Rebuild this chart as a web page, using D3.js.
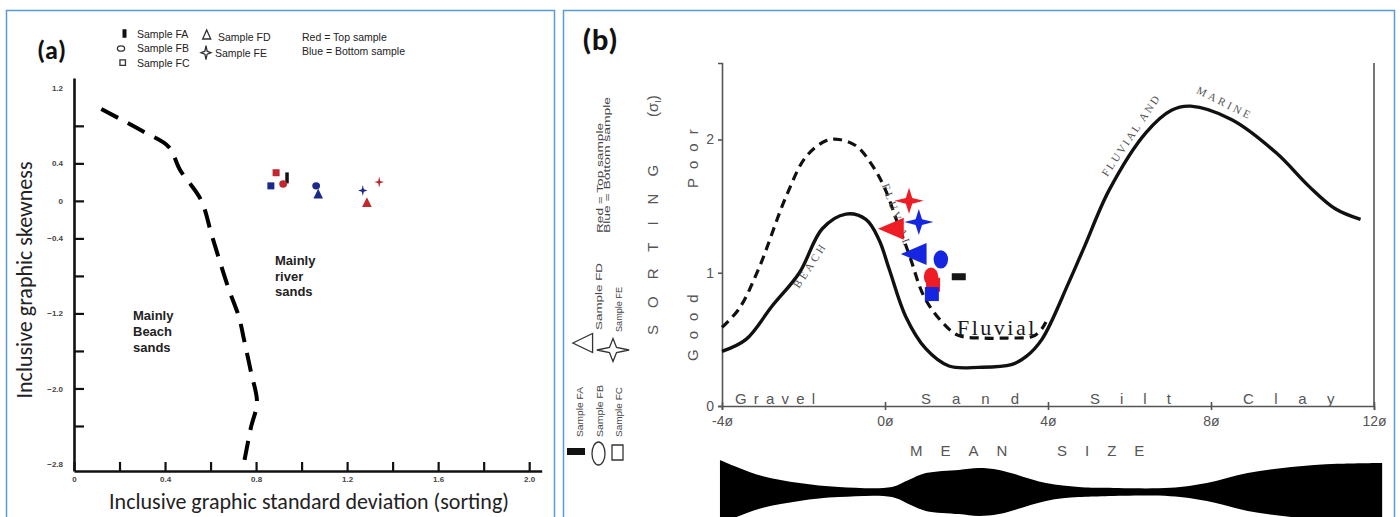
<!DOCTYPE html>
<html>
<head>
<meta charset="utf-8">
<script src="https://cdn.jsdelivr.net/npm/d3@7"></script>
<style>
  body { margin: 0; background: #fff; }
  svg { display: block; }
</style>
</head>
<body>
<svg id="chart" width="1400" height="517"></svg>
<script>
// ---------- panel (a): skewness vs sorting ----------
const sortTicksA = [0, 0.2, 0.4, 0.6, 0.8, 1.0, 1.2, 1.4, 1.6, 1.8, 2.0];
const sortLabelsA = [0, 0.4, 0.8, 1.2, 1.6, 2.0];
const skewTicksA = [1.2, 0.8, 0.4, 0, -0.4, -0.8, -1.2, -1.6, -2.0, -2.4, -2.8];
const skewLabelsA = [1.2, 0.4, 0, -0.4, -1.2, -2.0, -2.8];
const skewMarksA = [0.8, 0.4, 0, -0.4, -0.8, -1.2, -1.6, -2.0, -2.4];

// beach / river divide (dashed)
const divideSorting = [0.12, 0.306, 0.416, 0.466, 0.558, 0.607, 0.677, 0.725, 0.747, 0.778, 0.804, 0.778, 0.747];
const divideSkewness = [0.98, 0.736, 0.576, 0.33, 0.01, -0.38, -0.92, -1.24, -1.48, -1.83, -2.15, -2.41, -2.79];

// samples (FA has one point, the others a top and a bottom sample)
const sampleIds = ['FA', 'FB', 'FB', 'FC', 'FC', 'FD', 'FD', 'FE', 'FE'];
const sampleLevels = ['all', 'top', 'bottom', 'top', 'bottom', 'top', 'bottom', 'top', 'bottom'];
const sortingA = [0.936, 0.919, 1.064, 0.888, 0.865, 1.287, 1.073, 1.341, 1.269];
const skewnessA = [0.245, 0.18, 0.16, 0.30, 0.16, -0.03, 0.06, 0.20, 0.11];

// ---------- panel (b): sorting vs mean size ----------
const meanSizeB = [1.81, 1.13, 1.37, 1.18, 1.15, 0.25, 0.81, 0.59, 0.83];
const sortingB = [0.97, 0.97, 1.10, 0.91, 0.84, 1.33, 1.14, 1.54, 1.38];
const drawOrderB = [2, 3, 1, 4, 0, 5, 6, 7, 8];

const phiTicks = [-4, 0, 4, 8, 12];
const sigmaTicks = [0, 1, 2];

// beach -> fluvial and marine envelope (solid)
const envPhi = [-4.0, -3.41, -2.77, -2.1, -1.54, -0.96, -0.47, -0.15, 0.1, 0.51, 1.0, 1.57, 2.3, 3.1, 3.46, 3.85, 4.5, 4.9, 5.5, 6.4, 7.03, 7.5, 8.5, 9.6, 10.4, 11.05, 11.67];
const envSort = [0.41, 0.50, 0.75, 1.0, 1.33, 1.44, 1.40, 1.25, 1.03, 0.67, 0.43, 0.30, 0.29, 0.31, 0.37, 0.50, 0.92, 1.2, 1.62, 2.05, 2.22, 2.25, 2.15, 1.90, 1.65, 1.48, 1.40];

// fluvial envelope (dashed)
const fluvPhi = [-4.0, -3.58, -3.1, -2.43, -1.94, -1.45, -1.13, -0.7, -0.3, 0.0, 0.3, 0.6, 0.96, 1.4, 1.8, 2.4, 3.0, 3.6, 3.8, 3.95];
const fluvSort = [0.59, 0.73, 1.03, 1.57, 1.87, 1.99, 2.0, 1.95, 1.8, 1.63, 1.38, 1.13, 0.82, 0.63, 0.53, 0.51, 0.51, 0.52, 0.56, 0.63];

// relative abundance band under the mean size axis
const bandPhi = [-4.05, -3.1, -2.1, -1.13, 0.17, 0.59, 1.0, 1.81, 2.3, 2.8, 3.95, 4.75, 5.4, 7.0, 7.9, 8.9, 9.97, 11.1, 12.2];
const bandRel = [1.0, 0.53, 0.28, 0.16, 0.16, 0.38, 0.59, 0.69, 0.75, 0.69, 0.28, 0.16, 0.13, 0.13, 0.28, 0.59, 0.78, 0.88, 0.91];

const svg = d3.select('#chart');

// 4-point star symbol
const star4 = {
  draw(context, size) {
    const r = Math.sqrt(size) / 2, k = r * 0.22;
    context.moveTo(0, -r);
    context.lineTo(k, -k);
    context.lineTo(r, 0);
    context.lineTo(k, k);
    context.lineTo(0, r);
    context.lineTo(-k, k);
    context.lineTo(-r, 0);
    context.lineTo(-k, -k);
    context.closePath();
  }
};

function drawMarker(g, id, cfg, fill, hollow) {
  let el;
  const c = cfg[id];
  if (id === 'FA' || id === 'FC') {
    el = g.append('rect').attr('x', -c.w / 2).attr('y', -c.h / 2).attr('width', c.w).attr('height', c.h);
  } else if (id === 'FB') {
    el = g.append('ellipse').attr('rx', c.rx).attr('ry', c.ry);
  } else if (id === 'FD') {
    el = g.append('path').attr('d', d3.symbol(d3.symbolTriangle, c.size)())
      .attr('transform', `rotate(${c.rot || 0}) scale(${c.sx || 1},${c.sy || 1})`);
  } else {
    el = g.append('path').attr('d', d3.symbol(star4, c.size)())
      .attr('transform', `scale(${c.sx || 1},${c.sy || 1})`);
  }
  if (hollow && id !== 'FA') {
    el.attr('fill', 'none').attr('stroke', '#333').attr('stroke-width', 1.3).attr('vector-effect', 'non-scaling-stroke');
  } else {
    el.attr('fill', fill);
  }
  return el;
}

function rtext(parent, x, y, angle, str) {
  return parent.append('text').attr('transform', `translate(${x},${y}) rotate(${angle})`).text(str);
}

const pathOf = (xs, ys, sx, sy) => d3.line().curve(d3.curveCatmullRom.alpha(0.5))(xs.map((v, i) => [sx(v), sy(ys[i])]));

// ---------- frames ----------
svg.append('rect').attr('x', 6.5).attr('y', 10.5).attr('width', 548).attr('height', 520)
  .attr('fill', 'none').attr('stroke', '#5b9bd5').attr('stroke-width', 1.5);
svg.append('rect').attr('x', 563.5).attr('y', 10.5).attr('width', 831).attr('height', 520)
  .attr('fill', 'none').attr('stroke', '#5b9bd5').attr('stroke-width', 1.5);

// =====================================================================
// panel (a)
// =====================================================================
const gA = svg.append('g');
const xA = d3.scaleLinear().domain([0, 2.055]).range([74, 541.7]);
const yA = d3.scaleLinear().domain([1.31, -2.88]).range([78, 471]);
const fmtA = v => v === 0 ? '0' : d3.format('.1f')(v);
const colorsA = { all: '#111', top: '#c1272d', bottom: '#1b2a8a' };

const axYA = gA.append('g').attr('transform', `translate(${xA(0)},0)`)
  .call(d3.axisLeft(yA).tickValues(skewTicksA).tickSizeInner(-10).tickSizeOuter(0).tickPadding(11)
    .tickFormat(v => skewLabelsA.includes(v) ? fmtA(v) : ''));
const axXA = gA.append('g').attr('transform', `translate(0,${yA.range()[1]})`)
  .call(d3.axisBottom(xA).tickValues(sortTicksA).tickSizeInner(-9).tickSizeOuter(0).tickPadding(5)
    .tickFormat(v => sortLabelsA.includes(v) ? fmtA(v) : ''));
axYA.selectAll('.tick line').attr('display', d => skewMarksA.includes(d) ? null : 'none');
[axYA, axXA].forEach(ax => {
  ax.attr('font-family', 'Arial, "Liberation Sans", sans-serif').attr('font-size', 8).attr('font-weight', 'bold');
  ax.select('.domain').attr('stroke', '#111').attr('stroke-width', 2.6);
  ax.selectAll('.tick line').attr('stroke', '#111').attr('stroke-width', 2.2);
  ax.selectAll('.tick text').attr('fill', '#444');
});

gA.append('path').attr('d', pathOf(divideSorting, divideSkewness, xA, yA))
  .attr('fill', 'none').attr('stroke', '#000').attr('stroke-width', 4).attr('stroke-dasharray', '19,11');

const markA = {
  FA: { w: 3.5, h: 11 }, FB: { rx: 3.9, ry: 3.7 }, FC: { w: 7, h: 7 },
  FD: { size: 40, sy: 1.15 }, FE: { size: 121, sx: 0.85 }
};
sampleIds.forEach((id, i) => {
  const g = gA.append('g').attr('transform', `translate(${xA(sortingA[i])},${yA(skewnessA[i])})`);
  drawMarker(g, id, markA, colorsA[sampleLevels[i]], false);
});

// region labels
const regA = gA.append('g').attr('font-family', 'Arial, "Liberation Sans", sans-serif')
  .attr('font-size', 13).attr('font-weight', 'bold').attr('fill', '#222');
['Mainly', 'river', 'sands'].forEach((t, i) => regA.append('text').attr('x', 275).attr('y', 265 + i * 15.5).text(t));
['Mainly', 'Beach', 'sands'].forEach((t, i) => regA.append('text').attr('x', 133).attr('y', 320 + i * 15.8).text(t));

// legend (a)
const legA = gA.append('g').attr('font-family', 'Arial, "Liberation Sans", sans-serif').attr('font-size', 10.5).attr('fill', '#222');
const legMarkA = {
  FA: { w: 4, h: 8.5 }, FB: { rx: 3.6, ry: 2.7 }, FC: { w: 5.5, h: 5.5 },
  FD: { size: 28, sy: 1.3 }, FE: { size: 196, sx: 0.72 }
};
const legRowsA = [['FA', 124.5, 33.5, 137, 37.5], ['FB', 121, 48.5, 137, 52], ['FC', 122.7, 62.7, 137, 66.5],
                  ['FD', 206.7, 36, 218, 41], ['FE', 206, 52.7, 215, 57]];
legRowsA.forEach(([id, mx, my, tx, ty]) => {
  drawMarker(legA.append('g').attr('transform', `translate(${mx},${my})`), id, legMarkA, '#111', true);
  legA.append('text').attr('x', tx).attr('y', ty).text('Sample ' + id);
});
legA.append('text').attr('x', 302).attr('y', 40.5).text('Red = Top sample');
legA.append('text').attr('x', 302).attr('y', 54.5).text('Blue = Bottom sample');

// titles (a)
gA.append('text').attr('x', 37).attr('y', 59).attr('font-family', 'Carlito, Lato, sans-serif')
  .attr('font-weight', 'bold').attr('font-size', 26).attr('fill', '#111').text('(a)');
rtext(gA, 32, 280, -90, 'Inclusive graphic skewness').attr('text-anchor', 'middle')
  .attr('font-family', 'Carlito, Lato, sans-serif').attr('font-size', 22).attr('fill', '#222');
gA.append('text').attr('x', 309).attr('y', 509).attr('text-anchor', 'middle')
  .attr('font-family', 'Carlito, Lato, sans-serif').attr('font-size', 22).attr('fill', '#222')
  .text('Inclusive graphic standard deviation (sorting)');

// =====================================================================
// panel (b)
// =====================================================================
const gB = svg.append('g');
const xB = d3.scaleLinear().domain([-4, 12]).range([722, 1374]);
const yB = d3.scaleLinear().domain([0, 2.574]).range([406, 63]);
const colorsB = { all: '#161616', top: '#ee1c24', bottom: '#1626e0' };
const scanFont = '"Liberation Sans", Arial, sans-serif';

// abundance band
const hB = d3.scaleLinear().domain([0, 1]).range([0, 32]);
gB.append('path')
  .attr('d', d3.area().x(d => xB(d[0])).y0(d => 492 - hB(d[1])).y1(d => 492 + hB(d[1])).curve(d3.curveCatmullRom.alpha(0.5))(bandPhi.map((p, i) => [p, bandRel[i]])))
  .attr('fill', '#000');

const axYB = gB.append('g').attr('transform', `translate(${xB(-4)},0)`)
  .call(d3.axisLeft(yB).tickValues(sigmaTicks).tickSize(4).tickPadding(4).tickFormat(d3.format('d')));
const axXB = gB.append('g').attr('transform', `translate(0,${yB(0)})`)
  .call(d3.axisBottom(xB).tickValues(phiTicks).tickSize(4).tickPadding(6).tickFormat(v => v + 'ø'));
[axYB, axXB].forEach(ax => {
  ax.attr('font-family', scanFont).attr('font-size', 14);
  ax.select('.domain').attr('stroke', '#555').attr('stroke-width', 1.6);
  ax.selectAll('.tick line').attr('stroke', '#555').attr('stroke-width', 1.6);
  ax.selectAll('.tick text').attr('fill', '#555');
});
axXB.selectAll('.tick line').attr('y1', -4);
gB.append('line').attr('x1', xB(12)).attr('x2', xB(12)).attr('y1', yB(2.574)).attr('y2', yB(0))
  .attr('stroke', '#555').attr('stroke-width', 1.6);

// envelopes
gB.append('path').attr('d', pathOf(fluvPhi, fluvSort, xB, yB))
  .attr('fill', 'none').attr('stroke', '#111').attr('stroke-width', 3.2).attr('stroke-dasharray', '9,6');
gB.append('path').attr('d', pathOf(envPhi, envSort, xB, yB))
  .attr('fill', 'none').attr('stroke', '#111').attr('stroke-width', 3.4);

// curve labels
const serif = '"Liberation Serif", "DejaVu Serif", serif';
const lbB = gB.append('g').attr('font-family', serif).attr('fill', '#555').attr('font-size', 11).attr('text-anchor', 'middle');
rtext(lbB, 810, 265, -57, 'BEACH').attr('letter-spacing', 3).attr('dy', '0.35em');
rtext(lbB, 1131, 135, -56, 'FLUVIAL AND').attr('letter-spacing', 2.2).attr('dy', '0.35em');
rtext(lbB, 1225, 103, 26.5, 'MARINE').attr('letter-spacing', 3).attr('dy', '0.35em');
rtext(lbB, 897, 216, 70, 'FLUVIAL').attr('letter-spacing', 3).attr('dy', '0.35em');
gB.append('text').attr('x', 957).attr('y', 335).attr('font-family', serif).attr('font-size', 22)
  .attr('letter-spacing', 2.5).attr('fill', '#1a1a1a').text('Fluvial');

// samples (b)
const markB = {
  FA: { w: 14, h: 7 }, FB: { rx: 7.2, ry: 9.2 }, FC: { w: 14, h: 14 },
  FD: { size: 210, rot: -90, sy: 1.35 }, FE: { size: 676, sx: 1.12 }
};
drawOrderB.forEach(i => {
  const g = gB.append('g').attr('transform', `translate(${xB(meanSizeB[i])},${yB(sortingB[i])})`);
  drawMarker(g, sampleIds[i], markB, colorsB[sampleLevels[i]], false);
});

// grain classes along the axis
const clsB = gB.append('g').attr('font-family', scanFont).attr('font-size', 15).attr('fill', '#555');
[['Gravel', 735, 7.2], ['Sand', 921, 21], ['Silt', 1090, 20], ['Clay', 1243, 20.5]].forEach(([t, x, ls]) =>
  clsB.append('text').attr('x', x).attr('y', 404).attr('letter-spacing', ls).text(t));
clsB.append('text').attr('x', 910).attr('y', 456).attr('letter-spacing', 18).text('MEAN');
clsB.append('text').attr('x', 1057).attr('y', 456).attr('letter-spacing', 18).text('SIZE');

// sorting title
rtext(clsB, 658, 335, -90, 'SORTING').attr('letter-spacing', 17);
const sig = rtext(clsB, 658, 117, -90, '(σ');
sig.append('tspan').attr('font-size', 9).attr('dy', 3).text('I');
sig.append('tspan').attr('dy', -3).text(')');
rtext(clsB, 698, 188, -90, 'Poor').attr('letter-spacing', 9);
rtext(clsB, 698, 361, -90, 'Good').attr('letter-spacing', 10);

// rotated legend (b)
const legB = gB.append('g').attr('font-family', 'Arial, "Liberation Sans", sans-serif').attr('font-size', 8.5).attr('fill', '#444');
rtext(legB, 603, 233, -90, 'Red = Top sample').attr('textLength', 110).attr('lengthAdjust', 'spacingAndGlyphs');
rtext(legB, 610, 233, -90, 'Blue = Bottom sample').attr('textLength', 136).attr('lengthAdjust', 'spacingAndGlyphs');
const legMarkB = {
  FA: { w: 18, h: 7 }, FB: { rx: 6.5, ry: 11.5 }, FC: { w: 11, h: 15 },
  FD: { size: 156, rot: -90, sy: 1.2 }, FE: { size: 529, sx: 1.4 }
};
const legRowsB = [['FA', 576, 451.5, 583, 437, 50], ['FB', 598.5, 453.5, 603, 437, 52], ['FC', 617.5, 452.5, 622, 437, 50],
                  ['FD', 586, 343, 602, 330, 67], ['FE', 613, 350, 622, 332, 45]];
legRowsB.forEach(([id, mx, my, tx, ty, len]) => {
  drawMarker(legB.append('g').attr('transform', `translate(${mx},${my})`), id, legMarkB, '#111', true);
  rtext(legB, tx, ty, -90, 'Sample ' + id).attr('textLength', len).attr('lengthAdjust', 'spacingAndGlyphs');
});

gB.append('text').attr('x', 582).attr('y', 50).attr('font-family', 'Carlito, Lato, sans-serif')
  .attr('font-weight', 'bold').attr('font-size', 31).attr('fill', '#111').text('(b)');
</script>
</body>
</html>
